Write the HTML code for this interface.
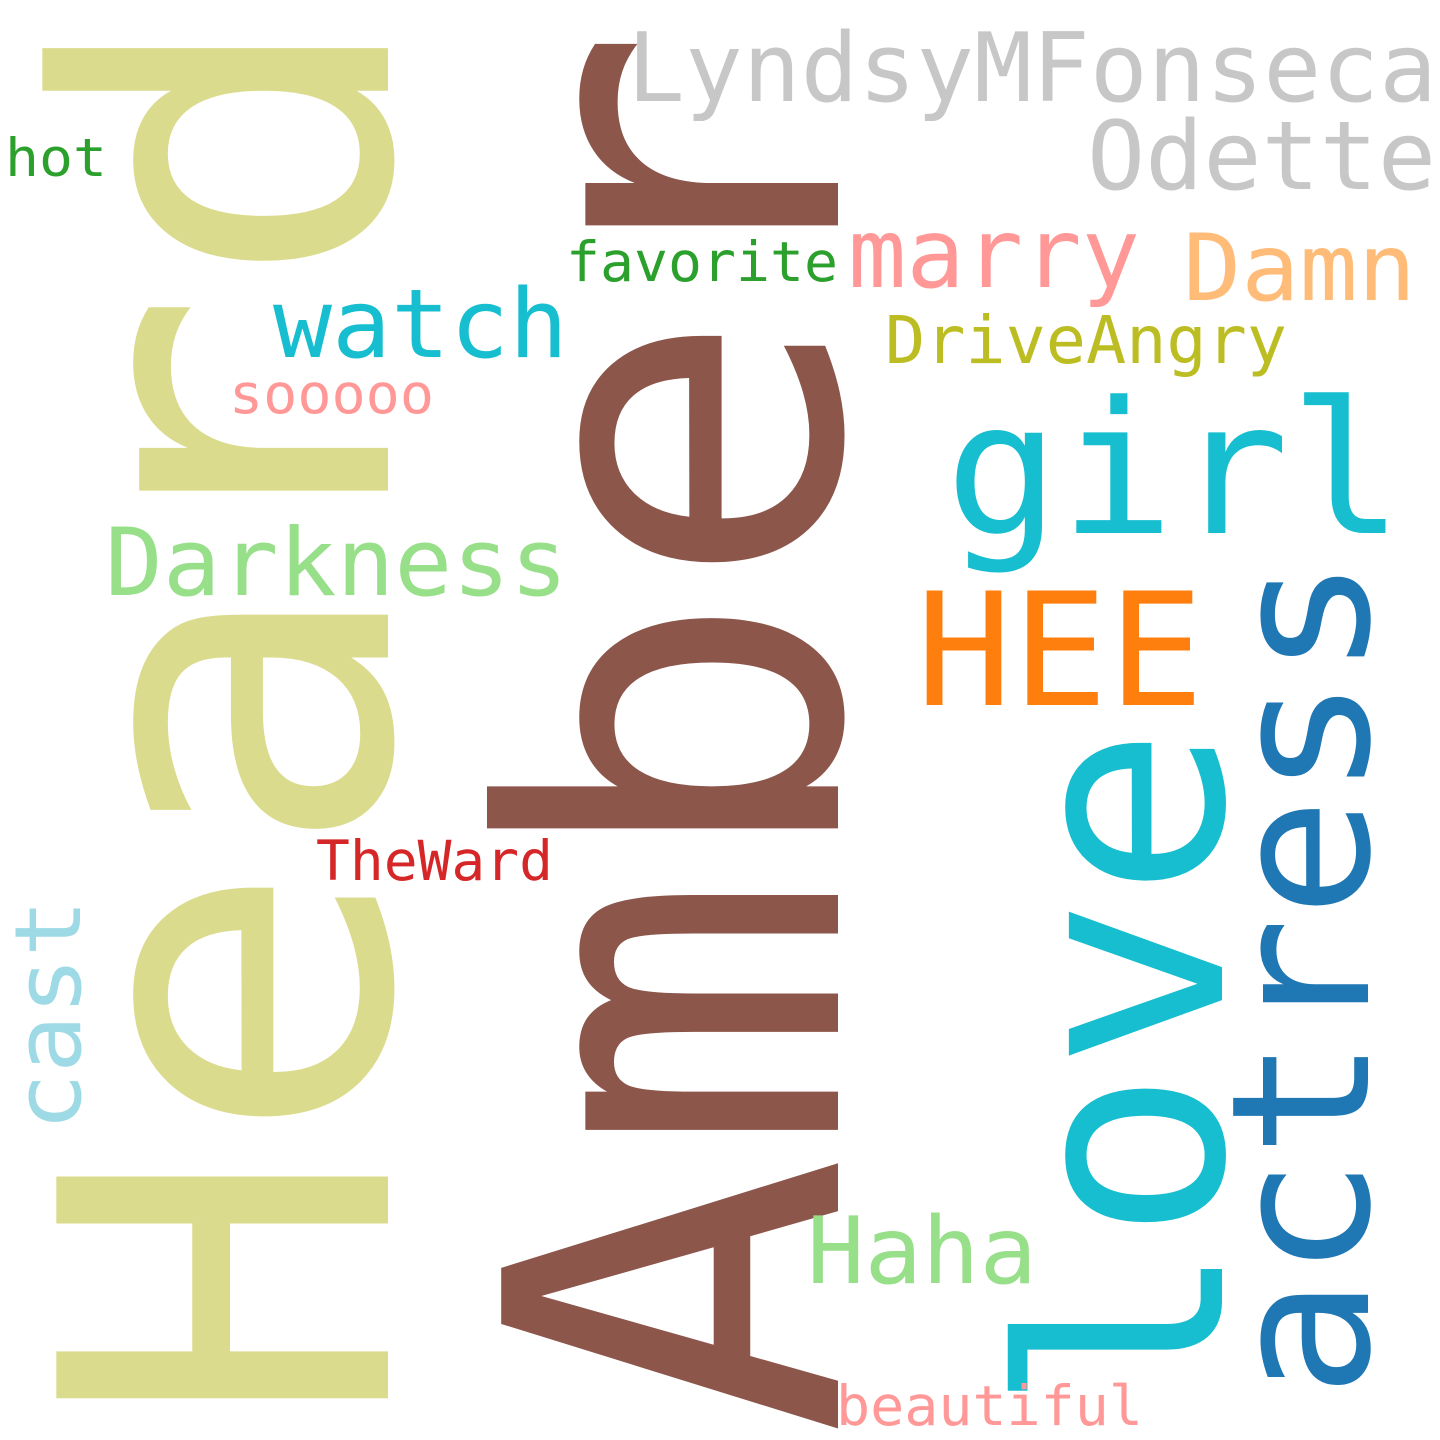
<!DOCTYPE html>
<html>
<head>
<meta charset="utf-8">
<style>
html,body{margin:0;padding:0;background:#fff;}
svg{display:block;}
text{font-family:"DejaVu Sans Mono","Liberation Mono",monospace;}
</style>
</head>
<body>
<svg width="1440" height="1440" viewBox="0 0 1440 1440">
<rect width="1440" height="1440" fill="#fff"/>
<text transform="translate(388,1430) rotate(-90)" font-size="455" fill="#dbdb8d" textLength="1426" lengthAdjust="spacingAndGlyphs">Heard</text>
<text transform="translate(838,1437) rotate(-90)" font-size="462" fill="#8c564b" textLength="1411" lengthAdjust="spacingAndGlyphs">Amber</text>
<text transform="translate(1222,1413) rotate(-90)" font-size="280" fill="#17becf" textLength="687" lengthAdjust="spacingAndGlyphs">love</text>
<text transform="translate(1368,1398) rotate(-90)" font-size="192" fill="#1f77b4" textLength="841" lengthAdjust="spacingAndGlyphs">actress</text>
<text transform="translate(80,1131) rotate(-90)" font-size="92" fill="#9edae5" textLength="232" lengthAdjust="spacingAndGlyphs">cast</text>
<text x="627" y="101" font-size="95" fill="#c7c7c7" textLength="810" lengthAdjust="spacingAndGlyphs">LyndsyMFonseca</text>
<text x="1087" y="189" font-size="95" fill="#c7c7c7" textLength="349" lengthAdjust="spacingAndGlyphs">Odette</text>
<text x="5" y="176" font-size="53" fill="#2ca02c" textLength="102" lengthAdjust="spacingAndGlyphs">hot</text>
<text x="566" y="281" font-size="55" fill="#2ca02c" textLength="272" lengthAdjust="spacingAndGlyphs">favorite</text>
<text x="848" y="287" font-size="96" fill="#ff9896" textLength="292" lengthAdjust="spacingAndGlyphs">marry</text>
<text x="1183" y="300" font-size="93" fill="#ffbb78" textLength="233" lengthAdjust="spacingAndGlyphs">Damn</text>
<text x="273" y="357" font-size="95" fill="#17becf" textLength="295" lengthAdjust="spacingAndGlyphs">watch</text>
<text x="885" y="363" font-size="66" fill="#bcbd22" textLength="402" lengthAdjust="spacingAndGlyphs">DriveAngry</text>
<text x="229" y="413" font-size="55" fill="#ff9896" textLength="205" lengthAdjust="spacingAndGlyphs">sooooo</text>
<text x="945" y="533" font-size="184" fill="#17becf" textLength="459" lengthAdjust="spacingAndGlyphs">girl</text>
<text x="105" y="595" font-size="94" fill="#98df8a" textLength="463" lengthAdjust="spacingAndGlyphs">Darkness</text>
<text x="916" y="705" font-size="157" fill="#ff7f0e" textLength="288" lengthAdjust="spacingAndGlyphs">HEE</text>
<text x="316" y="880" font-size="55" fill="#d62728" textLength="237" lengthAdjust="spacingAndGlyphs">TheWard</text>
<text x="807" y="1283" font-size="93" fill="#98df8a" textLength="230" lengthAdjust="spacingAndGlyphs">Haha</text>
<text x="836" y="1425" font-size="55" fill="#ff9896" textLength="307" lengthAdjust="spacingAndGlyphs">beautiful</text>
</svg>
</body>
</html>
